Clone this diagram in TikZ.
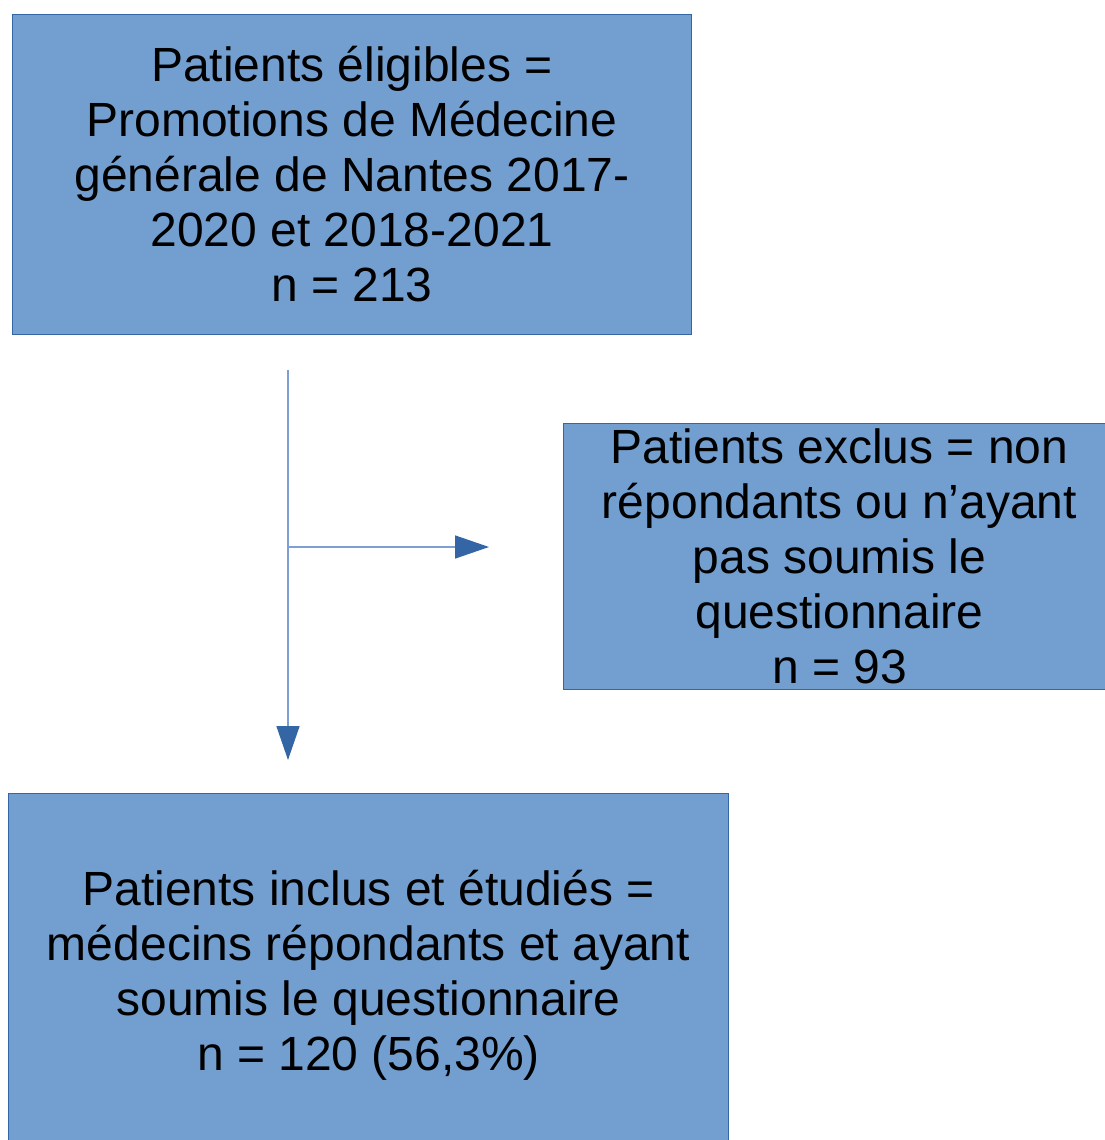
\documentclass[tikz,border=0pt]{standalone}
\usepackage{fontspec}
\setmainfont{Liberation Sans}
\usetikzlibrary{arrows.meta}
\definecolor{boxfill}{HTML}{729FCF}
\definecolor{boxline}{HTML}{3465A4}
\definecolor{connline}{HTML}{7E9FD3}
\tikzset{
  flowbox/.style={draw=boxline, fill=boxfill, line width=1pt, inner sep=0pt,
    anchor=north west, align=center, text=black,
    font=\fontsize{48}{55}\selectfont},
  flowarrow/.style={draw=connline, line width=1.5pt,
    -{Triangle[length=34pt,width=23pt,color=boxline,fill=boxline]}},
  flowline/.style={draw=connline, line width=1.5pt}
}
\begin{document}
\begin{tikzpicture}[x=1pt,y=-1pt]
\useasboundingbox (0,0) rectangle (1104,1140);
\node[flowbox, minimum width=679pt, minimum height=320pt] (elig) at (12,14)
  {Patients éligibles =\\Promotions de Médecine\\générale de Nantes 2017-\\2020 et 2018-2021\\n = 213};
\node[flowbox, minimum width=552pt, minimum height=266pt] (excl) at (563,423)
  {Patients exclus = non\\répondants ou n’ayant\\pas soumis le\\questionnaire\\n = 93};
\node[flowbox, minimum width=720pt, minimum height=364pt] (incl) at (8,793)
  {Patients inclus et étudiés =\\médecins répondants et ayant\\soumis le questionnaire\\n = 120 (56,3\%)};
\coordinate (vtop) at (288,370);
\coordinate (branch) at (288,547);
\coordinate (vtip) at (288,760);
\coordinate (htip) at (489,547);
\draw[flowarrow] (vtop) -- (vtip);
\draw[flowarrow] (branch) -- (htip);
\end{tikzpicture}
\end{document}
